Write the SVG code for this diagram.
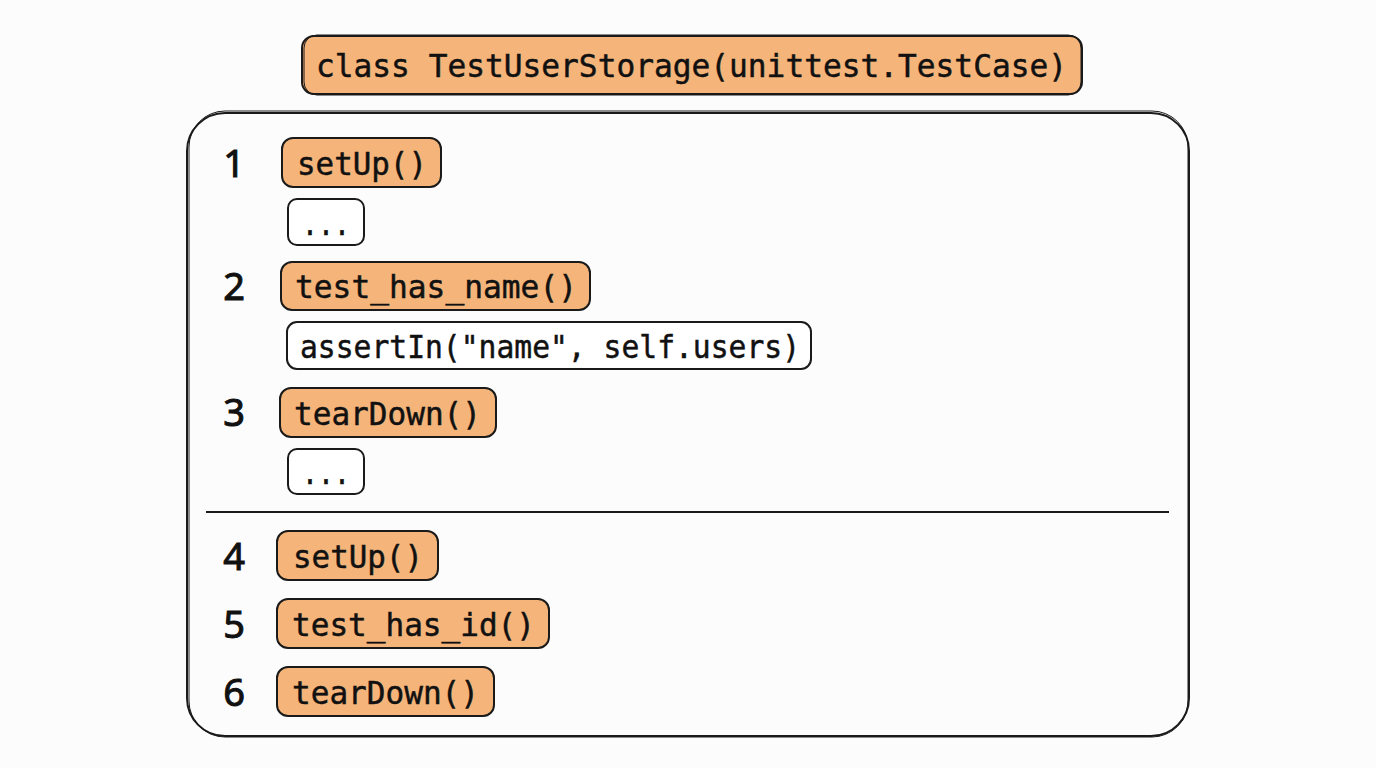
<svg xmlns="http://www.w3.org/2000/svg" width="1376" height="768" viewBox="0 0 1376 768">
<style>
.bg{fill:#fcfcfd}
.o{fill:#f5b57a;stroke:#1a1a1a;stroke-width:2}
.w{fill:#ffffff;stroke:#1a1a1a;stroke-width:2}
.s{fill:none;stroke:#1a1a1a;stroke-width:1}
.c{font-family:"DejaVu Sans Mono","Liberation Mono",monospace;font-size:32px;fill:#111;stroke:#111;stroke-width:0.5}
.n{font-family:"Noto Sans","DejaVu Sans",sans-serif;font-size:38px;fill:#111;stroke:#111;stroke-width:1;text-anchor:middle}
</style>
<rect class="bg" x="0" y="0" width="1376" height="768"/>
<g id="title">
<rect class="o" x="302" y="36" width="780" height="58" rx="12"/>
<rect class="s" x="304" y="35" width="777" height="60" rx="13"/>
<text class="c" x="316" y="77" textLength="751" lengthAdjust="spacingAndGlyphs">class TestUserStorage(unittest.TestCase)</text>
</g>
<g id="container">
<rect fill="none" stroke="#1a1a1a" stroke-width="2" x="187" y="113" width="1002" height="623" rx="38"/>
<rect class="s" x="189" y="111" width="999" height="626" rx="36"/>
<line x1="206" y1="512" x2="1169" y2="512" stroke="#1a1a1a" stroke-width="2"/>
</g>
<g id="step1">
<text class="n" x="234" y="177">1</text>
<rect class="o" x="282" y="138" width="159" height="49" rx="11"/>
<text class="c" x="297" y="175" textLength="130" lengthAdjust="spacingAndGlyphs">setUp()</text>
</g>
<g id="body1">
<rect class="w" x="288" y="199" width="76" height="46" rx="9"/>
<text class="c" x="302" y="235" textLength="48" lengthAdjust="spacingAndGlyphs">...</text>
</g>
<g id="step2">
<text class="n" x="234" y="300">2</text>
<rect class="o" x="281" y="262" width="309" height="48" rx="11"/>
<text class="c" x="295" y="298" textLength="282" lengthAdjust="spacingAndGlyphs">test_has_name()</text>
</g>
<g id="body2">
<rect class="w" x="287" y="322" width="524" height="47" rx="10"/>
<text class="c" x="300" y="358" textLength="500" lengthAdjust="spacingAndGlyphs">assertIn("name", self.users)</text>
</g>
<g id="step3">
<text class="n" x="234" y="426">3</text>
<rect class="o" x="280" y="388" width="216" height="49" rx="11"/>
<text class="c" x="294" y="425" textLength="187" lengthAdjust="spacingAndGlyphs">tearDown()</text>
</g>
<g id="body3">
<rect class="w" x="288" y="449" width="76" height="45" rx="9"/>
<text class="c" x="302" y="484" textLength="48" lengthAdjust="spacingAndGlyphs">...</text>
</g>
<g id="step4">
<text class="n" x="234" y="570">4</text>
<rect class="o" x="277" y="531" width="161" height="49" rx="11"/>
<text class="c" x="293" y="568" textLength="130" lengthAdjust="spacingAndGlyphs">setUp()</text>
</g>
<g id="step5">
<text class="n" x="234" y="638">5</text>
<rect class="o" x="277" y="599" width="272" height="49" rx="11"/>
<text class="c" x="292" y="636" textLength="243" lengthAdjust="spacingAndGlyphs">test_has_id()</text>
</g>
<g id="step6">
<text class="n" x="234" y="706">6</text>
<rect class="o" x="277" y="667" width="217" height="49" rx="11"/>
<text class="c" x="292" y="704" textLength="187" lengthAdjust="spacingAndGlyphs">tearDown()</text>
</g>
</svg>
